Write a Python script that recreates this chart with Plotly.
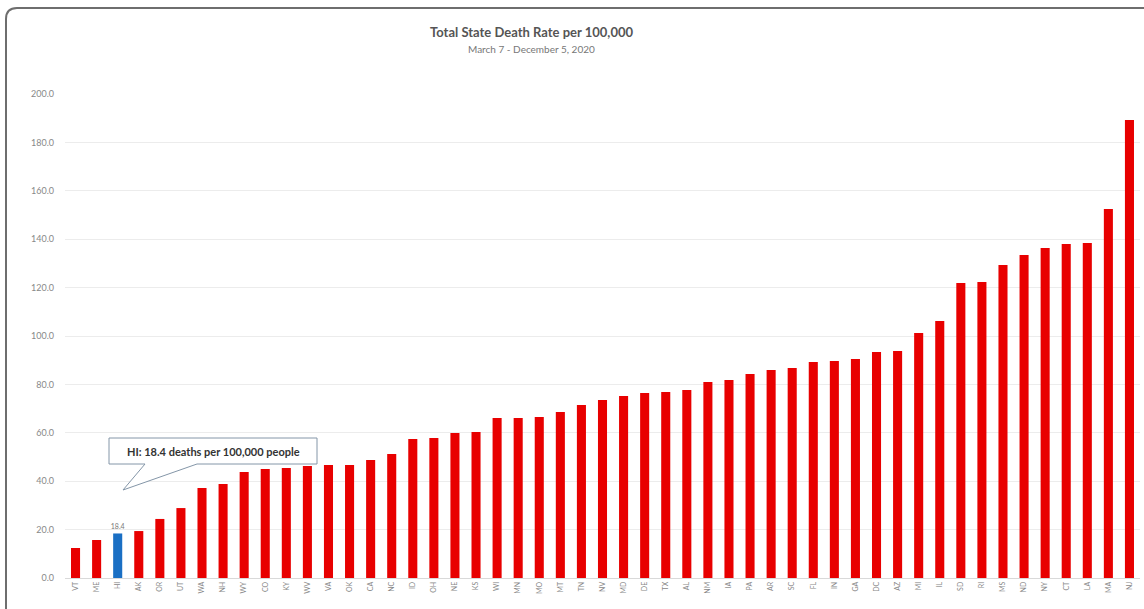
import plotly.graph_objects as go

states = ["VT","ME","HI","AK","OR","UT","WA","NH","WY","CO","KY","WV","VA","OK","CA","NC",
          "ID","OH","NE","KS","WI","MN","MO","MT","TN","NV","MD","DE","TX","AL","NM","IA",
          "PA","AR","SC","FL","IN","GA","DC","AZ","MI","IL","SD","RI","MS","ND","NY","CT",
          "LA","MA","NJ"]
rates = [12.4, 15.7, 18.4, 19.4, 24.4, 28.9, 37.2, 38.8, 43.8, 45.0, 45.5, 46.3, 46.7, 46.7,
         48.8, 51.2, 57.4, 57.9, 59.9, 60.3, 66.1, 66.1, 66.5, 68.6, 71.5, 73.6, 75.2, 76.4,
         76.9, 77.7, 81.0, 81.8, 84.3, 86.0, 86.8, 89.3, 89.7, 90.5, 93.4, 93.8, 101.2, 106.2,
         121.9, 122.3, 129.3, 133.5, 136.4, 138.0, 138.4, 152.5, 189.3]
highlight = "HI"
y_ticks = [0, 20, 40, 60, 80, 100, 120, 140, 160, 180, 200]

RED = "#e80000"
BLUE = "#1a6fc4"
colors = [BLUE if s == highlight else RED for s in states]
labels = [f"{v:.1f}" if s == highlight else "" for s, v in zip(states, rates)]
hi_idx = states.index(highlight)
hi_val = rates[hi_idx]

fig = go.Figure(go.Bar(
    x=states, y=rates, marker=dict(color=colors, line=dict(width=0)),
    text=labels, textposition="outside", cliponaxis=False, constraintext="none",
    textfont=dict(size=7, color="#777"),
))

W, H = 1144, 609
L, R, T, B = 65, 4, 94, 31
pw, ph = W - L - R, H - T - B

def px_x(p):
    return (p - L) / pw

def px_y(p):
    return (H - B - p) / ph

# rounded frame
x0, x1 = px_x(6), px_x(1160)
yt, yb = px_y(8), px_y(620)
rx, ry = 11 / pw, 11 / ph
frame = (f"M {x0},{yb} L {x0},{yt-ry} Q {x0},{yt} {x0+rx},{yt} L {x1},{yt}")

band = pw / len(states)
def dx(p):
    return (p - L) / band - 0.5

def dy(p):
    return (H - B - p) / ph * 200

bl, br, bt, bb = dx(109), dx(317), dy(438), dy(464)
tl, tr, tx, ty = dx(145), dx(197), dx(123), dy(490)
callout = (f"M {bl},{bt} L {br},{bt} L {br},{bb} L {tr},{bb} L {tx},{ty} "
           f"L {tl},{bb} L {bl},{bb} Z")

fig.update_layout(
    width=W, height=H,
    margin=dict(l=L, r=R, t=T, b=B),
    paper_bgcolor="white", plot_bgcolor="white",
    font=dict(family="Lato, Open Sans, sans-serif", color="#666"),
    showlegend=False,
    bargap=0.57,
    xaxis=dict(type="category", tickangle=-90, tickfont=dict(size=7, color="#888"),
               showgrid=False, showline=True, linecolor="#d9d9d9", linewidth=1,
               ticks="", ticklen=0),
    yaxis=dict(range=[0, 200], tickvals=y_ticks, tickformat=".1f",
               tickfont=dict(size=9, color="#888"), showgrid=True,
               gridcolor="#ececec", gridwidth=1, zeroline=False, ticks="",
               ticklabelstandoff=10),
    shapes=[
        dict(type="path", xref="paper", yref="paper", path=frame,
             line=dict(color="#6e6e6e", width=2), layer="above"),
        dict(type="path", xref="x", yref="y", path=callout, fillcolor="white",
             line=dict(color="#8496a8", width=1), layer="above"),
    ],
    annotations=[
        dict(text="<b>Total State Death Rate per 100,000</b>", xref="paper", yref="paper",
             x=px_x(531), y=px_y(32), showarrow=False, xanchor="center", yanchor="middle",
             font=dict(size=13, color="#555")),
        dict(text="March 7 - December 5, 2020", xref="paper", yref="paper",
             x=px_x(531), y=px_y(49), showarrow=False, xanchor="center", yanchor="middle",
             font=dict(size=10, color="#777")),
        dict(text=f"<b>{highlight}: {hi_val} deaths per 100,000 people</b>", xref="x", yref="y",
             x=(bl + br) / 2, y=(bt + bb) / 2, showarrow=False,
             xanchor="center", yanchor="middle", font=dict(size=11, color="#333")),
    ],
)

fig.write_html("out.html")
